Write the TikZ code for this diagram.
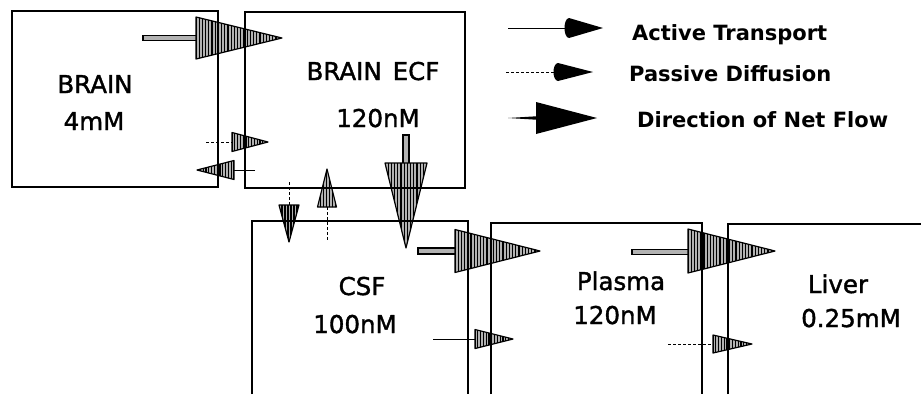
\documentclass[tikz,border=0pt]{standalone}
\usepackage{fontspec}
\setmainfont{DejaVu Sans}
\newfontfamily\lblfont[FakeBold=1.5]{DejaVu Sans}
\tikzset{
  box/.style={line width=1.3pt},
  lbl/.style={font=\lblfont\fontsize{24.5}{25}\selectfont, anchor=base, inner sep=0pt},
  leg/.style={font=\bfseries\fontsize{21}{22}\selectfont, anchor=base west, inner sep=0pt},
  penfill/.style={fill=gray!60},
  stripe/.style={line width=1.2pt},
  penline/.style={line width=1.2pt, line join=round},
  shaft/.style={fill=gray!60, draw=black, line width=1.6pt},
  thinline/.style={line width=0.9pt},
  dsh/.style={line width=0.8pt, dash pattern=on 3pt off 2pt}
}
% horizontal pennant: base x, y, tip x, half height, stripe step
\newcommand\hpen[5]{%
  \fill[penfill] (#1,#2-#4) -- (#3,#2) -- (#1,#2+#4) -- cycle;
  \begin{scope}
    \clip (#1,#2-#4) -- (#3,#2) -- (#1,#2+#4) -- cycle;
    \foreach \q in {0,...,32}{\draw[stripe] ({#1+\q*#5},0) -- ({#1+\q*#5},394);}
  \end{scope}
  \draw[penline] (#1,#2-#4) -- (#3,#2) -- (#1,#2+#4) -- cycle;
}
% vertical pennant: base y, x, tip y, half width, stripe step
\newcommand\vpen[5]{%
  \fill[penfill] (#2-#4,#1) -- (#2,#3) -- (#2+#4,#1) -- cycle;
  \begin{scope}
    \clip (#2-#4,#1) -- (#2,#3) -- (#2+#4,#1) -- cycle;
    \foreach \q in {0,...,16}{\draw[stripe] ({#2-#4+\q*#5},0) -- ({#2-#4+\q*#5},394);}
  \end{scope}
  \draw[penline] (#2-#4,#1) -- (#2,#3) -- (#2+#4,#1) -- cycle;
}
\begin{document}
\begin{tikzpicture}[x=1pt,y=-1pt]
\useasboundingbox (0,0) rectangle (921,394);
\fill[white] (0,0) rectangle (921,394);

% arrows
\draw[shaft] (143,35.5) rectangle (197,40.5);
\hpen{196}{38}{282}{21}{3.2}
\draw[dsh] (206,142) -- (232,142);
\hpen{232}{142}{268}{9.5}{2.8}
\draw[thinline] (255,170) -- (234,170);
\hpen{234}{170}{197}{9.5}{-2.8}
\draw[dsh] (289,182) -- (289,205);
\vpen{205}{289}{242}{10}{3}
\vpen{207}{327}{169}{9.5}{3}
\draw[dsh] (327,207) -- (327,240);
\draw[shaft] (403,135) rectangle (409,164);
\vpen{163}{406}{248}{21}{3.2}
\draw[shaft] (418,248) rectangle (456,254);
\hpen{455}{251}{540}{21.5}{3.2}
\draw[thinline] (433,339) -- (475,339);
\hpen{475}{339}{513}{9.5}{2.8}
\draw[shaft] (632,249.5) rectangle (689,254.5);
\hpen{688}{251}{775}{22}{3.2}
\draw[dsh] (668,344) -- (713,344);
\hpen{713}{344}{752}{9}{2.8}

% boxes
\draw[box] (12,11) rectangle (218,187);
\draw[box] (245,12) rectangle (465,188);
\draw[box] (252,394) -- (252,221) -- (468,221) -- (468,394);
\draw[box] (491,394) -- (491,223) -- (702,223) -- (702,394);
\draw[box] (728,394) -- (728,224) -- (921,224);

% labels
\node[lbl] (brain) at (95,93) {BRAIN};
\node[lbl] (brainc) at (94,130) {4mM};
\node[lbl] (ecf) at (373,80) {BRAIN\hspace{0.45em}ECF};
\node[lbl] (ecfc) at (378,127) {120nM};
\node[lbl] (csf) at (362,295) {CSF};
\node[lbl] (csfc) at (355,333) {100nM};
\node[lbl] (pl) at (621,290) {Plasma};
\node[lbl] (plc) at (615,324) {120nM};
\node[lbl] (lv) at (838,293) {Liver};
\node[lbl] (lvc) at (851,327) {0.25mM};

% legend
\draw[thinline] (508,28) -- (567,28);
\fill (603,28) -- (569,18) .. controls (563,18.5) and (563,37.5) .. (569,38) -- cycle;
\draw[dsh] (506,72) -- (554,72);
\fill (593,72) -- (558,63) .. controls (552,63.5) and (552,80.5) .. (558,81) -- cycle;
\fill (508,118) -- (536,116.3) -- (536,119.7) -- cycle;
\fill[line join=round] (536,102) -- (597,118) -- (536,134) -- cycle;
\node[leg] (l1) at (632,40) {Active Transport};
\node[leg] (l2) at (629,81) {Passive Diffusion};
\node[leg] (l3) at (637,127) {Direction of Net Flow};
\end{tikzpicture}
\end{document}
